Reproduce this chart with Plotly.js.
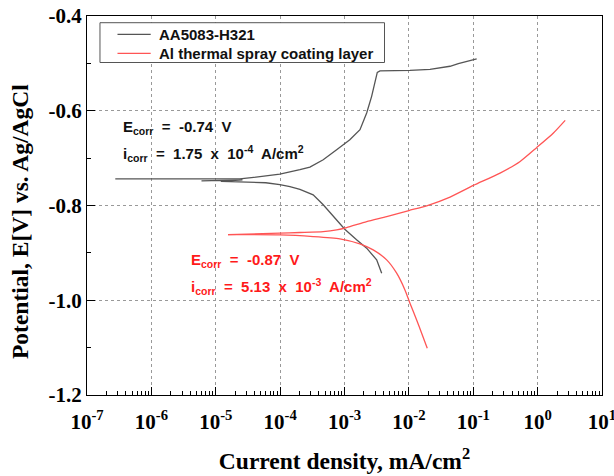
<!DOCTYPE html>
<html>
<head>
<meta charset="utf-8">
<script src="https://cdn.plot.ly/plotly-3.0.1.min.js"></script>
<style>html,body{margin:0;padding:0;background:#fff;}#chart{width:614px;height:476px;}</style>
</head>
<body>
<div id="chart"></div>
<script>
// AA5083-H321: anodic branch
const aaCurrent = [2.75e-7, 1e-6, 5e-6, 2.36e-5, 9.9e-5, 1.42e-4, 2.03e-4, 2.9e-4, 4.67e-4, 7.55e-4, 1.21e-3, 1.74e-3, 2.21e-3, 2.64e-3, 2.97e-3, 3.23e-3, 3.56e-3, 7.28e-3, 1.04e-2, 2.13e-2, 4.36e-2, 5.86e-2, 1.13e-1];
const aaPotential = [-0.744, -0.744, -0.744, -0.744, -0.734, -0.730, -0.7245, -0.7188, -0.7034, -0.6822, -0.6611, -0.640, -0.6047, -0.5696, -0.5412, -0.519, -0.516, -0.5155, -0.5146, -0.5125, -0.5061, -0.5004, -0.4905];
// AA5083-H321: cathodic branch
const aaCurrentC = [6.0e-6, 1.5e-5, 2.6e-5, 1.2e-5, 2.6e-5, 6e-5, 9.9e-5, 1.42e-4, 2.03e-4, 3.26e-4, 4.67e-4, 6.67e-4, 1.01e-3, 1.54e-3, 2.21e-3, 3.16e-3, 3.78e-3];
const aaPotentialC = [-0.748, -0.747, -0.746, -0.749, -0.750, -0.752, -0.756, -0.760, -0.766, -0.7774, -0.7985, -0.8233, -0.850, -0.8725, -0.890, -0.9148, -0.9429];
// Al thermal spray coating layer: anodic branch
const alCurrent = [1.55e-5, 9.9e-5, 2.03e-4, 4.67e-4, 7.55e-4, 1.08e-3, 2.21e-3, 4.52e-3, 1.0e-2, 1.89e-2, 4.36e-2, 1.005e-1, 2.61e-1, 5.35e-1, 9.73e-1, 1.76, 2.68];
const alPotential = [-0.8615, -0.8584, -0.857, -0.855, -0.8514, -0.8465, -0.8338, -0.8233, -0.8106, -0.8006, -0.7822, -0.7577, -0.7315, -0.707, -0.6774, -0.6469, -0.6203];
// Al thermal spray coating layer: cathodic branch
const alCurrentC = [1.55e-5, 9.9e-5, 3.26e-4, 8.47e-4, 1.73e-3, 2.79e-3, 4.52e-3, 6.46e-3, 8.69e-3, 1.04e-2, 1.32e-2, 1.58e-2, 1.93e-2];
const alPotentialC = [-0.8615, -0.862, -0.8655, -0.8704, -0.881, -0.8937, -0.9148, -0.9429, -0.9782, -1.0063, -1.0416, -1.0698, -1.1015];

const xTickVals = [1e-7, 1e-6, 1e-5, 1e-4, 1e-3, 1e-2, 1e-1, 1, 10];
const xTickText = ['10<sup>-7</sup>', '10<sup>-6</sup>', '10<sup>-5</sup>', '10<sup>-4</sup>', '10<sup>-3</sup>', '10<sup>-2</sup>', '10<sup>-1</sup>', '10<sup>0</sup>', '10<sup>1</sup>'];
const yTickVals = [-1.2, -1.0, -0.8, -0.6, -0.4];
const yTickText = ['-1.2', '-1.0', '-0.8', '-0.6', '-0.4'];
const seriesNames = ['AA5083-H321', 'Al thermal spray coating layer'];

const grayC = '#555555', redC = '#ff5555';
const traces = [
  {x: aaCurrent, y: aaPotential, mode: 'lines', name: seriesNames[0], line: {color: grayC, width: 1.3}, showlegend: false},
  {x: aaCurrentC, y: aaPotentialC, mode: 'lines', name: seriesNames[0], line: {color: grayC, width: 1.3}, showlegend: false},
  {x: alCurrent, y: alPotential, mode: 'lines', name: seriesNames[1], line: {color: redC, width: 1.3, shape: 'spline', smoothing: 0.6}, showlegend: false},
  {x: alCurrentC, y: alPotentialC, mode: 'lines', name: seriesNames[1], line: {color: redC, width: 1.3, shape: 'spline', smoothing: 0.6}, showlegend: false}
];

const serif = 'Liberation Serif, Times New Roman, serif';
const sans = 'Liberation Sans, Arial, sans-serif';
const annFont = (c) => ({family: sans, size: 15, color: c, weight: 'bold'});

// hand-made legend box (paper coordinates)
const shapes = [
  {type: 'rect', xref: 'paper', yref: 'paper', x0: 0.0252, x1: 0.5777, y0: 0.8773, y1: 0.9823, line: {color: '#555', width: 1}, fillcolor: '#fff', layer: 'above'},
  {type: 'line', xref: 'paper', yref: 'paper', x0: 0.0592, x1: 0.1237, y0: 0.9514, y1: 0.9514, line: {color: grayC, width: 1.3}, layer: 'above'},
  {type: 'line', xref: 'paper', yref: 'paper', x0: 0.0592, x1: 0.1237, y0: 0.9013, y1: 0.9013, line: {color: redC, width: 1.3}, layer: 'above'}
];

const layout = {
  width: 614, height: 476,
  margin: {l: 87, r: 12, t: 16, b: 81},
  paper_bgcolor: '#fff', plot_bgcolor: '#fff',
  showlegend: false,
  shapes: shapes,
  xaxis: {type: 'log', range: [-7, 1], tickvals: xTickVals, ticktext: xTickText,
          ticks: 'inside', ticklen: 8, tickcolor: '#000', linecolor: '#000', linewidth: 1, mirror: true,
          showgrid: true, gridcolor: '#999', griddash: 'dot', gridwidth: 1,
          minor: {ticks: 'inside', ticklen: 4, dtick: 'D1', tickcolor: '#000', showgrid: false},
          tickfont: {family: serif, size: 21, color: '#000', weight: 'bold'},
          ticklabelstandoff: 8, ticklabeloverflow: 'allow',
          title: {text: 'Current density, mA/cm<sup>2</sup>', font: {family: serif, size: 23.5, color: '#000', weight: 'bold'}, standoff: 19},
          zeroline: false},
  yaxis: {range: [-1.2, -0.4], tickvals: yTickVals, ticktext: yTickText,
          ticks: 'inside', ticklen: 8, tickcolor: '#000', linecolor: '#000', linewidth: 1, mirror: true,
          showgrid: true, gridcolor: '#999', griddash: 'dot', gridwidth: 1,
          minor: {ticks: 'inside', ticklen: 4, dtick: 0.1, tickcolor: '#000', showgrid: false},
          tickfont: {family: serif, size: 21, color: '#000', weight: 'bold'},
          zeroline: false},
  annotations: [
    {xref: 'paper', yref: 'paper', x: -0.130, y: 0.4565, xanchor: 'center', yanchor: 'middle', showarrow: false, textangle: -90,
     text: 'Potential, E[V] vs. Ag/AgCl', font: {family: serif, size: 23.5, color: '#000', weight: 'bold'}},
    {xref: 'paper', yref: 'paper', x: 0.1351, y: 0.9514, xanchor: 'left', yanchor: 'middle', showarrow: false,
     text: seriesNames[0], font: {family: sans, size: 15, color: '#111', weight: 'bold'}},
    {xref: 'paper', yref: 'paper', x: 0.1351, y: 0.9013, xanchor: 'left', yanchor: 'middle', showarrow: false,
     text: seriesNames[1], font: {family: sans, size: 15, color: '#111', weight: 'bold'}},
    {xref: 'paper', yref: 'paper', x: 0.066, y: 0.7071, xanchor: 'left', yanchor: 'middle', showarrow: false,
     text: 'E<sub>corr</sub>  =  -0.74  V', font: annFont('#111')},
    {xref: 'paper', yref: 'paper', x: 0.066, y: 0.6372, xanchor: 'left', yanchor: 'middle', showarrow: false,
     text: 'i<sub>corr</sub>  =  1.75  x  10<sup>-4</sup>  A/cm<sup>2</sup>', font: annFont('#111')},
    {xref: 'paper', yref: 'paper', x: 0.198, y: 0.3562, xanchor: 'left', yanchor: 'middle', showarrow: false,
     text: 'E<sub>corr</sub>  =  -0.87  V', font: annFont('#ff1a1a')},
    {xref: 'paper', yref: 'paper', x: 0.198, y: 0.285, xanchor: 'left', yanchor: 'middle', showarrow: false,
     text: 'i<sub>corr</sub>  =  5.13  x  10<sup>-3</sup>  A/cm<sup>2</sup>', font: annFont('#ff1a1a')}
  ]
};

Plotly.newPlot('chart', traces, layout, {staticPlot: true, displayModeBar: false});
</script>
</body>
</html>
